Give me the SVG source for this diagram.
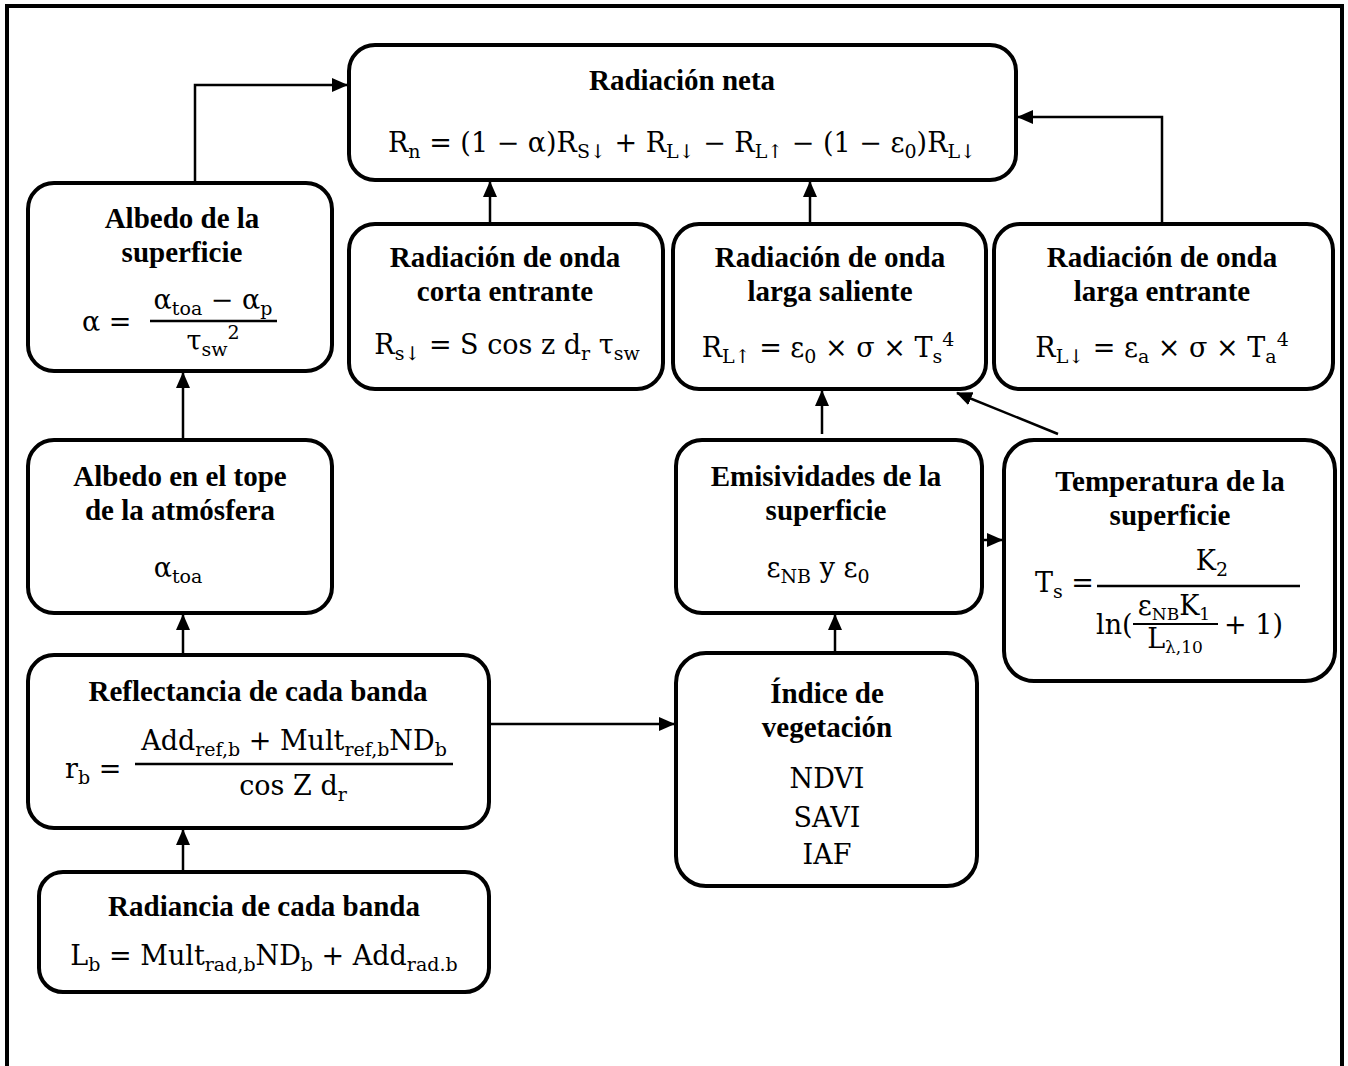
<svg xmlns="http://www.w3.org/2000/svg" width="1348" height="1066" viewBox="0 0 1348 1066">
<defs>
<marker id="ah" markerUnits="userSpaceOnUse" markerWidth="16" markerHeight="14" refX="15" refY="7" orient="auto">
<path d="M0,0 L16,7 L0,14 Z" fill="#000"/>
</marker>
</defs>
<style>
.box{fill:#fff;stroke:#000;stroke-width:4}
.t{font-family:"Liberation Serif",serif;font-weight:bold;font-size:29px;text-anchor:middle;fill:#000}
.f{font-family:"DejaVu Serif",serif;font-size:27px;fill:#000}
.s{font-size:19px}
.c{fill:none;stroke:#000;stroke-width:2.5}
.bar{stroke:#000;stroke-width:2.5}
</style>
<rect width="1348" height="1066" fill="#fff"/>
<path d="M7,1066 V6 H1342 V1066" fill="none" stroke="#000" stroke-width="4"/>

<g id="connectors">
<path class="c" d="M195,183 V85 H347" marker-end="url(#ah)"/>
<path class="c" d="M1162,222 V117 H1018" marker-end="url(#ah)"/>
<path class="c" d="M490,222 V182" marker-end="url(#ah)"/>
<path class="c" d="M810,222 V182" marker-end="url(#ah)"/>
<path class="c" d="M183,438 V373" marker-end="url(#ah)"/>
<path class="c" d="M183,653 V615" marker-end="url(#ah)"/>
<path class="c" d="M183,870 V830" marker-end="url(#ah)"/>
<path class="c" d="M490,724 H674" marker-end="url(#ah)"/>
<path class="c" d="M835,651 V615" marker-end="url(#ah)"/>
<path class="c" d="M822,434 V391" marker-end="url(#ah)"/>
<path class="c" d="M984,540 H1002" marker-end="url(#ah)"/>
<path class="c" d="M1058,434 L957,393" marker-end="url(#ah)"/>
</g>

<g id="n-neta">
<rect class="box" x="349" y="45" width="667" height="135" rx="26"/>
<text class="t" x="682" y="90">Radiación neta</text>
<text class="f" x="682" y="152" text-anchor="middle">R<tspan class="s" dy="6">n</tspan><tspan dy="-6"> = (1 − α)R</tspan><tspan class="s" dy="6">S↓</tspan><tspan dy="-6"> + R</tspan><tspan class="s" dy="6">L↓</tspan><tspan dy="-6"> − R</tspan><tspan class="s" dy="6">L↑</tspan><tspan dy="-6"> − (1 − ε</tspan><tspan class="s" dy="6">0</tspan><tspan dy="-6">)R</tspan><tspan class="s" dy="6">L↓</tspan></text>
</g>

<g id="n-albedo-sup">
<rect class="box" x="28" y="183" width="304" height="188" rx="26"/>
<text class="t" x="182" y="228">Albedo de la</text>
<text class="t" x="182" y="262">superficie</text>
<text class="f" x="82" y="331">α =</text>
<text class="f" x="213" y="309" text-anchor="middle">α<tspan class="s" dy="6">toa</tspan><tspan dy="-6"> − α</tspan><tspan class="s" dy="6">p</tspan></text>
<line class="bar" x1="150" y1="321" x2="277" y2="321"/>
<text class="f" x="213" y="350" text-anchor="middle">τ<tspan class="s" dy="6">sw</tspan><tspan class="s" dy="-17">2</tspan></text>
</g>

<g id="n-corta">
<rect class="box" x="349" y="224" width="314" height="165" rx="26"/>
<text class="t" x="505" y="267">Radiación de onda</text>
<text class="t" x="505" y="301">corta entrante</text>
<text class="f" x="507" y="354" text-anchor="middle">R<tspan class="s" dy="6">s↓</tspan><tspan dy="-6"> = S cos z d</tspan><tspan class="s" dy="6">r</tspan><tspan dy="-6"> τ</tspan><tspan class="s" dy="6">sw</tspan></text>
</g>

<g id="n-saliente">
<rect class="box" x="673" y="224" width="313" height="165" rx="26"/>
<text class="t" x="830" y="267">Radiación de onda</text>
<text class="t" x="830" y="301">larga saliente</text>
<text class="f" x="828" y="357" text-anchor="middle">R<tspan class="s" dy="6">L↑</tspan><tspan dy="-6"> = ε</tspan><tspan class="s" dy="6">0</tspan><tspan dy="-6"> × σ × T</tspan><tspan class="s" dy="6">s</tspan><tspan class="s" dy="-17">4</tspan></text>
</g>

<g id="n-larga-entrante">
<rect class="box" x="994" y="224" width="339" height="165" rx="26"/>
<text class="t" x="1162" y="267">Radiación de onda</text>
<text class="t" x="1162" y="301">larga entrante</text>
<text class="f" x="1162" y="357" text-anchor="middle">R<tspan class="s" dy="6">L↓</tspan><tspan dy="-6"> = ε</tspan><tspan class="s" dy="6">a</tspan><tspan dy="-6"> × σ × T</tspan><tspan class="s" dy="6">a</tspan><tspan class="s" dy="-17">4</tspan></text>
</g>

<g id="n-albedo-toa">
<rect class="box" x="28" y="440" width="304" height="173" rx="26"/>
<text class="t" x="180" y="486">Albedo en el tope</text>
<text class="t" x="180" y="520">de la atmósfera</text>
<text class="f" x="178" y="577" text-anchor="middle">α<tspan class="s" dy="6">toa</tspan></text>
</g>

<g id="n-emisividades">
<rect class="box" x="676" y="440" width="306" height="173" rx="26"/>
<text class="t" x="826" y="486">Emisividades de la</text>
<text class="t" x="826" y="520">superficie</text>
<text class="f" x="818" y="577" text-anchor="middle">ε<tspan class="s" dy="6">NB</tspan><tspan dy="-6"> y ε</tspan><tspan class="s" dy="6">0</tspan></text>
</g>

<g id="n-temperatura">
<rect class="box" x="1004" y="440" width="331" height="241" rx="30"/>
<text class="t" x="1170" y="491">Temperatura de la</text>
<text class="t" x="1170" y="525">superficie</text>
<text class="f" x="1035" y="592">T<tspan class="s" dy="6">s</tspan><tspan dy="-6"> =</tspan></text>
<text class="f" x="1212" y="570" text-anchor="middle">K<tspan class="s" dy="6">2</tspan></text>
<line class="bar" x1="1097" y1="586" x2="1300" y2="586"/>
<text class="f" x="1096" y="634">ln(</text>
<text class="f" x="1174" y="615" text-anchor="middle" font-size="24">ε<tspan font-size="17" dy="5">NB</tspan><tspan dy="-5">K</tspan><tspan font-size="17" dy="5">1</tspan></text>
<line x1="1133" y1="624" x2="1218" y2="624" stroke="#000" stroke-width="2"/>
<text class="f" x="1175" y="648" text-anchor="middle" font-size="24">L<tspan font-size="17" dy="5">λ,10</tspan></text>
<text class="f" x="1224" y="634">+ 1)</text>
</g>

<g id="n-reflectancia">
<rect class="box" x="28" y="655" width="461" height="173" rx="26"/>
<text class="t" x="258" y="701">Reflectancia de cada banda</text>
<text class="f" x="65" y="778">r<tspan class="s" dy="6">b</tspan><tspan dy="-6"> =</tspan></text>
<text class="f" x="294" y="750" text-anchor="middle">Add<tspan class="s" dy="6">ref,b</tspan><tspan dy="-6"> + Mult</tspan><tspan class="s" dy="6">ref,b</tspan><tspan dy="-6">ND</tspan><tspan class="s" dy="6">b</tspan></text>
<line class="bar" x1="135" y1="764" x2="453" y2="764"/>
<text class="f" x="293" y="795" text-anchor="middle">cos Z d<tspan class="s" dy="6">r</tspan></text>
</g>

<g id="n-indice">
<rect class="box" x="676" y="653" width="301" height="233" rx="30"/>
<text class="t" x="827" y="703">Índice de</text>
<text class="t" x="827" y="737">vegetación</text>
<text class="f" x="827" y="788" text-anchor="middle">NDVI</text>
<text class="f" x="827" y="827" text-anchor="middle">SAVI</text>
<text class="f" x="827" y="864" text-anchor="middle">IAF</text>
</g>

<g id="n-radiancia">
<rect class="box" x="39" y="872" width="450" height="120" rx="24"/>
<text class="t" x="264" y="916">Radiancia de cada banda</text>
<text class="f" x="264" y="965" text-anchor="middle">L<tspan class="s" dy="6">b</tspan><tspan dy="-6"> = Mult</tspan><tspan class="s" dy="6">rad,b</tspan><tspan dy="-6">ND</tspan><tspan class="s" dy="6">b</tspan><tspan dy="-6"> + Add</tspan><tspan class="s" dy="6">rad.b</tspan></text>
</g>
</svg>
